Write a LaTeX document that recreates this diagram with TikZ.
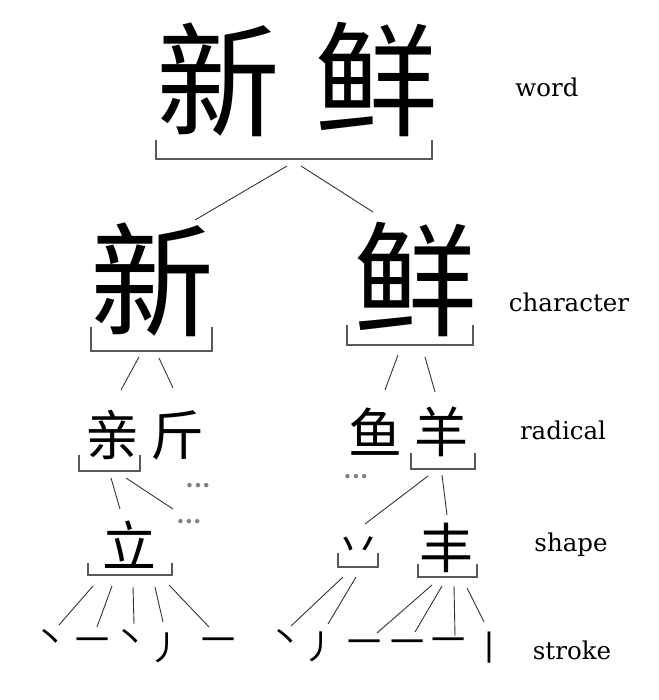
\documentclass[tikz,border=0pt]{standalone}
\usepackage{fontspec}
\setmainfont{DejaVu Serif}
\newfontfamily\cjk{Noto Sans CJK SC}

\tikzset{
  big/.style={font=\cjk\fontsize{124}{124}\selectfont, inner sep=0pt},
  mid/.style={font=\cjk\fontsize{54}{54}\selectfont, inner sep=0pt},
  strk/.style={font=\cjk\fontsize{34}{34}\selectfont, inner sep=0pt},
  level/.style={font=\fontsize{24.5}{24.5}\selectfont, inner sep=0pt},
  more/.style={font=\bfseries\fontsize{24}{24}\selectfont, text=black!50, inner sep=0pt},
  brk/.style={draw=black!65, line width=1.6pt},
  link/.style={draw=black!80, line width=0.9pt},
}

\begin{document}
\begin{tikzpicture}[x=1pt,y=-1pt]
  \useasboundingbox (0,0) rectangle (658,700);

  % level names
  \node[level] (lword)   at (547,87)  {word};
  \node[level] (lchar)   at (569,302) {character};
  \node[level] (lrad)    at (563,430) {radical};
  \node[level] (lshape)  at (571,545) {shape};
  \node[level] (lstroke) at (572,650) {stroke};

  % word and characters
  \node[big] (w1) at (218,80)  {新};
  \node[big] (w2) at (376,80)  {鲜};
  \node[big] (c1) at (152,280) {新};
  \node[big] (c2) at (415,280) {鲜};

  % radicals
  \node[mid] (r1) at (112,435) {亲};
  \node[mid] (r2) at (177,435) {斤};
  \node[mid] (r3) at (375,432) {鱼};
  \node[mid] (r4) at (441,432) {羊};

  % shapes
  \node[mid] (p1) at (129,545) {立};
  \node[mid,font=\cjk\fontsize{44}{44}\selectfont] (p2) at (358,549) {丷};
  \node[mid] (p3) at (446,548) {丰};

  % strokes
  \foreach \n/\x/\y/\t in {s1/50/640/丶, s2/92/645/一, s3/130/640/丶, s4/165/648/丿,
      s5/218/645/一, s6/285/640/丶, s7/319/647/丿, s8/364/647/一, s9/407/647/一,
      s10/448/645/一, s11/489/648/丨}
    \node[strk] (\n) at (\x,\y) {\t};

  % omitted parts
  \node[more] (m1) at (198,486) {...};
  \node[more] (m2) at (189,522) {...};
  \node[more] (m3) at (356,477) {...};

  % brackets
  \foreach \xa/\xb/\ya/\yb in {156/432/140/159, 91/212/327/351, 347/473/325/345,
      79/140/455/471, 411/475/453/469, 88/172/563/575, 338/378/553/567, 418/477/564/577}
    \draw[brk] (\xa,\ya) |- (\xb,\yb) -- (\xb,\ya);

  % connector ends
  \foreach \n/\x/\y in {a1/287/166, b1/195/220, a2/301/166, b2/373/212,
      a3/139/357, b3/121/390, a4/159/358, b4/173/388,
      a5/398/355, b5/385/390, a6/425/357, b6/435/392,
      a7/111/478, b7/120/509, a8/126/478, b8/173/509,
      a9/428/476, b9/365/524, a10/442/475, b10/447/515,
      a11/93/586, b11/59/625, a12/112/586, b12/97/627, a13/133/587, b13/134/624,
      a14/155/587, b14/163/622, a15/169/585, b15/209/627,
      a16/343/577, b16/291/626, a17/356/577, b17/328/624,
      a18/432/585, b18/377/633, a19/442/586, b19/415/632,
      a20/454/586, b20/455/636, a21/467/588, b21/484/622}
    \coordinate (\n) at (\x,\y);

  \foreach \i in {1,...,21}
    \draw[link] (a\i) -- (b\i);
\end{tikzpicture}
\end{document}
